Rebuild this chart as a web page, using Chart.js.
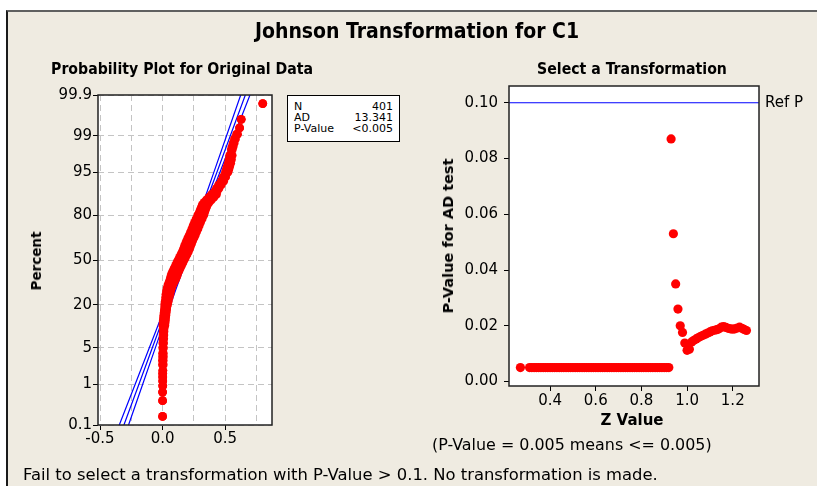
<!DOCTYPE html>
<html>
<head>
<meta charset="utf-8">
<script src="https://cdn.jsdelivr.net/npm/chart.js@4.4.1/dist/chart.umd.min.js"></script>
<style>
  html, body { margin: 0; padding: 0; }
  body { width: 817px; height: 486px; overflow: hidden; background: #fff; position: relative; font-family: "DejaVu Sans", sans-serif; }
  #panel { position: absolute; left: 6px; top: 10px; width: 830px; height: 490px; background: #efebe1;
           border-top: 2px solid #606060; border-left: 2px solid #1a1a1a; }
  canvas { position: absolute; left: 0; top: 0; }
  .txt { position: absolute; white-space: nowrap; color: #000; }
  .head { font-family: "DejaVu Sans Condensed", "DejaVu Sans", sans-serif; font-stretch: condensed; font-weight: bold; }
  #title { left: 167px; width: 500px; top: 19px; text-align: center; font-size: 21px; line-height: 24px; }
  #subLeft { left: 32px; width: 300px; top: 60px; text-align: center; font-size: 15.7px; line-height: 18px; }
  #subRight { left: 482px; width: 300px; top: 60px; text-align: center; font-size: 15.7px; line-height: 18px; }
  .axt { font-weight: bold; font-size: 13.5px; line-height: 16px; transform: translate(-50%, -50%); }
  .rot { transform: translate(-50%, -50%) rotate(-90deg); }
  #stats { position: absolute; left: 287px; top: 95px; width: 113px; height: 47px; box-sizing: border-box;
           border: 1px solid #000; background: #fff; font-size: 11px; padding: 5px 6px 0 6px; }
  #stats div { display: flex; justify-content: space-between; line-height: 11.2px; }
  .note { line-height: 18px; }
</style>
</head>
<body>
<div id="panel"></div>
<canvas id="probChart" width="817" height="486"></canvas>
<canvas id="zChart" width="817" height="486"></canvas>

<div class="txt head" id="title">Johnson Transformation for C1</div>
<div class="txt head" id="subLeft">Probability Plot for Original Data</div>
<div class="txt head" id="subRight">Select a Transformation</div>
<div class="txt axt rot" style="left:36px; top:261px;">Percent</div>
<div class="txt axt rot" style="left:448px; top:236px; font-size:14.5px;">P-Value for AD test</div>
<div class="txt axt" style="left:632px; top:420px; font-size:15px;">Z Value</div>
<div id="stats">
  <div><span>N</span><span>401</span></div>
  <div><span>AD</span><span>13.341</span></div>
  <div><span>P-Value</span><span>&lt;0.005</span></div>
</div>
<div class="txt note" style="left:432px; top:436px; font-size:15.9px;">(P-Value = 0.005 means &lt;= 0.005)</div>
<div class="txt note" style="left:23px; top:466px; font-size:16.4px;">Fail to select a transformation with P-Value &gt; 0.1. No transformation is made.</div>

<script>
// ---- probability plot of the original data ----
// plotted percent, and the left / right edge of the red band at that percent
const probPercents = [
  0.17, 0.42, 0.67, 0.92, 1.17, 1.42, 1.67, 1.92, 2.5, 3,
  3.5, 4, 5, 6, 7, 8, 9, 10, 11, 12,
  13, 14, 15, 16, 17, 18, 19, 20, 21, 22,
  24, 26, 28, 30, 32, 34, 36, 38, 40, 42,
  44, 46, 48, 50, 52, 54, 56, 58, 60, 62,
  64, 66, 68, 70, 72, 74, 76, 78, 80, 81,
  82, 83, 84, 85, 86, 87, 88, 89, 90, 91,
  92, 93, 94, 95, 95.5, 96, 96.5, 97, 97.5, 98.08,
  98.33, 98.58, 98.83, 99.08, 99.33, 99.58, 99.83
];
const probLow = [
  0.000, 0.000, 0.000, 0.001, 0.001, 0.001, 0.001, 0.002, -0.001, -0.001,
  0.000, 0.000, 0.001, 0.002, 0.003, 0.004, 0.005, 0.006, 0.002, 0.004,
  0.006, 0.008, 0.010, 0.012, 0.014, 0.016, 0.018, 0.018, 0.019, 0.021,
  0.024, 0.027, 0.031, 0.036, 0.043, 0.052, 0.060, 0.066, 0.073, 0.083,
  0.093, 0.104, 0.114, 0.124, 0.135, 0.146, 0.157, 0.166, 0.174, 0.183,
  0.192, 0.202, 0.213, 0.223, 0.234, 0.244, 0.255, 0.268, 0.281, 0.292,
  0.298, 0.304, 0.311, 0.318, 0.332, 0.350, 0.370, 0.390, 0.415, 0.430,
  0.448, 0.468, 0.484, 0.502, 0.509, 0.516, 0.524, 0.530, 0.536, 0.549,
  0.556, 0.564, 0.574, 0.591, 0.615, 0.628, 0.800
];
const probHigh = [
  0.000, 0.000, 0.000, 0.001, 0.001, 0.001, 0.001, 0.002, 0.005, 0.005,
  0.006, 0.006, 0.007, 0.008, 0.009, 0.010, 0.011, 0.012, 0.018, 0.020,
  0.022, 0.024, 0.026, 0.028, 0.030, 0.032, 0.034, 0.038, 0.041, 0.045,
  0.052, 0.059, 0.065, 0.072, 0.081, 0.092, 0.104, 0.114, 0.121, 0.131,
  0.141, 0.152, 0.162, 0.172, 0.183, 0.194, 0.205, 0.214, 0.222, 0.231,
  0.240, 0.250, 0.261, 0.271, 0.282, 0.292, 0.303, 0.316, 0.329, 0.332,
  0.338, 0.344, 0.351, 0.358, 0.372, 0.390, 0.410, 0.430, 0.435, 0.450,
  0.468, 0.488, 0.504, 0.522, 0.529, 0.536, 0.544, 0.550, 0.556, 0.557,
  0.564, 0.572, 0.582, 0.599, 0.615, 0.628, 0.800
];

// fitted normal line and its 95% confidence bounds
const fitPercents = [0.1, 1, 5, 10, 30, 50, 70, 90, 95, 99, 99.9];
const fitX  = [-0.309, -0.189, -0.082, -0.025, 0.094, 0.176, 0.258, 0.377, 0.434, 0.541, 0.661];
const ciLoX = [-0.346, -0.219, -0.106, -0.046, 0.078, 0.161, 0.242, 0.356, 0.410, 0.511, 0.624];
const ciHiX = [-0.272, -0.159, -0.058, -0.004, 0.110, 0.191, 0.274, 0.398, 0.458, 0.571, 0.698];

const pctTicks = [0.1, 1, 5, 20, 50, 80, 95, 99, 99.9];
const pctTickLabels = ['0.1', '1', '5', '20', '50', '80', '95', '99', '99.9'];
const xTicksLeft = [-0.5, -0.25, 0, 0.25, 0.5, 0.75];
const xLabelsLeft = ['-0.5', '', '0.0', '', '0.5', ''];

// ---- P-value of AD test for each Johnson z value ----
const zValues = [
  0.27, 0.31, 0.32, 0.33, 0.34, 0.35, 0.36, 0.37, 0.38, 0.39,
  0.40, 0.41, 0.42, 0.43, 0.44, 0.45, 0.46, 0.47, 0.48, 0.49,
  0.50, 0.51, 0.52, 0.53, 0.54, 0.55, 0.56, 0.57, 0.58, 0.59,
  0.60, 0.61, 0.62, 0.63, 0.64, 0.65, 0.66, 0.67, 0.68, 0.69,
  0.70, 0.71, 0.72, 0.73, 0.74, 0.75, 0.76, 0.77, 0.78, 0.79,
  0.80, 0.81, 0.82, 0.83, 0.84, 0.85, 0.86, 0.87, 0.88, 0.89,
  0.90, 0.91, 0.92,
  0.93, 0.94, 0.95, 0.96, 0.97, 0.98, 0.99, 1.00, 1.01, 1.02,
  1.03, 1.04, 1.05, 1.06, 1.07, 1.08, 1.09, 1.10, 1.11, 1.12,
  1.13, 1.14, 1.15, 1.16, 1.17, 1.18, 1.19, 1.20, 1.21, 1.22,
  1.23, 1.24, 1.25, 1.26
];
const pValues = [
  0.005, 0.005, 0.005, 0.005, 0.005, 0.005, 0.005, 0.005, 0.005, 0.005,
  0.005, 0.005, 0.005, 0.005, 0.005, 0.005, 0.005, 0.005, 0.005, 0.005,
  0.005, 0.005, 0.005, 0.005, 0.005, 0.005, 0.005, 0.005, 0.005, 0.005,
  0.005, 0.005, 0.005, 0.005, 0.005, 0.005, 0.005, 0.005, 0.005, 0.005,
  0.005, 0.005, 0.005, 0.005, 0.005, 0.005, 0.005, 0.005, 0.005, 0.005,
  0.005, 0.005, 0.005, 0.005, 0.005, 0.005, 0.005, 0.005, 0.005, 0.005,
  0.005, 0.005, 0.005,
  0.087, 0.053, 0.035, 0.026, 0.020, 0.0176, 0.0138, 0.0112, 0.0116, 0.0142,
  0.0148, 0.0153, 0.0158, 0.0162, 0.0166, 0.0170, 0.0174, 0.0178, 0.0182, 0.0184,
  0.0186, 0.0189, 0.0195, 0.0197, 0.0194, 0.0191, 0.0189, 0.0188, 0.0189, 0.0192,
  0.0195, 0.0191, 0.0187, 0.0183
];
const refP = 0.1;
const zTicks = [0.4, 0.6, 0.8, 1.0, 1.2];
const pTicks = [0, 0.02, 0.04, 0.06, 0.08, 0.10];

const FONT = '"DejaVu Sans", sans-serif';

// inverse standard normal (Acklam), used for the probability axis
function probit(p) {
  const a = [-3.969683028665376e+01, 2.209460984245205e+02, -2.759285104469687e+02, 1.383577518672690e+02, -3.066479806614716e+01, 2.506628277459239e+00];
  const b = [-5.447609879822406e+01, 1.615858368580409e+02, -1.556989798598866e+02, 6.680131188771972e+01, -1.328068155288572e+01];
  const c = [-7.784894002430293e-03, -3.223964580411365e-01, -2.400758277161838e+00, -2.549732539343734e+00, 4.374664141464968e+00, 2.938163982698783e+00];
  const d = [7.784695709041462e-03, 3.224671290700398e-01, 2.445134137142996e+00, 3.754408661907416e+00];
  const plow = 0.02425;
  if (p < plow) {
    const q = Math.sqrt(-2 * Math.log(p));
    return (((((c[0]*q+c[1])*q+c[2])*q+c[3])*q+c[4])*q+c[5]) / ((((d[0]*q+d[1])*q+d[2])*q+d[3])*q+1);
  }
  if (p > 1 - plow) {
    const q = Math.sqrt(-2 * Math.log(1 - p));
    return -(((((c[0]*q+c[1])*q+c[2])*q+c[3])*q+c[4])*q+c[5]) / ((((d[0]*q+d[1])*q+d[2])*q+d[3])*q+1);
  }
  const q = p - 0.5, r = q * q;
  return (((((a[0]*r+a[1])*r+a[2])*r+a[3])*r+a[4])*r+a[5])*q / (((((b[0]*r+b[1])*r+b[2])*r+b[3])*r+b[4])*r+1);
}
const zOf = pct => probit(pct / 100);

// white plot area + dark frame
const plotFrame = {
  id: 'plotFrame',
  beforeDraw(chart) {
    const { ctx, chartArea: a } = chart;
    ctx.save();
    ctx.fillStyle = '#ffffff';
    ctx.fillRect(a.left, a.top, a.width, a.height);
    ctx.restore();
  },
  afterDraw(chart) {
    const { ctx, chartArea: a } = chart;
    ctx.save();
    ctx.strokeStyle = '#222';
    ctx.lineWidth = 1.5;
    ctx.strokeRect(a.left, a.top, a.width, a.height);
    ctx.restore();
  }
};

const refLabel = {
  id: 'refLabel',
  afterDraw(chart) {
    const { ctx, chartArea, scales } = chart;
    ctx.save();
    ctx.font = '15px ' + FONT;
    ctx.fillStyle = '#000';
    ctx.textBaseline = 'middle';
    ctx.fillText('Ref P', chartArea.right + 6, scales.y.getPixelForValue(refP));
    ctx.restore();
  }
};

const blueLine = (xs) => ({
  data: xs.map((x, i) => ({ x: x, y: zOf(fitPercents[i]) })),
  showLine: true,
  borderColor: '#0000ff',
  borderWidth: 1.2,
  pointRadius: 0,
  fill: false
});

const redDots = (xs) => ({
  data: xs.map((v, i) => ({ x: v, y: zOf(probPercents[i]) })),
  backgroundColor: '#ff0000',
  borderWidth: 0,
  pointRadius: 4.4
});

new Chart(document.getElementById('probChart'), {
  type: 'scatter',
  data: {
    datasets: [
      redDots(probLow),
      redDots(probHigh),
      blueLine(fitX),
      blueLine(ciLoX),
      blueLine(ciHiX)
    ]
  },
  options: {
    responsive: false,
    animation: false,
    events: [],
    layout: { padding: { left: 58, top: 95, right: 545, bottom: 31 } },
    plugins: { legend: { display: false }, tooltip: { enabled: false } },
    scales: {
      x: {
        type: 'linear',
        min: -0.516,
        max: 0.874,
        afterBuildTicks: s => { s.ticks = xTicksLeft.map(v => ({ value: v })); },
        afterFit: s => { s.height = 30; },
        ticks: {
          autoSkip: false, maxRotation: 0, padding: 0, color: '#000',
          font: { family: FONT, size: 15 },
          callback: (v, i) => xLabelsLeft[i]
        },
        grid: {
          color: '#c4c4c4',
          tickColor: c => (xLabelsLeft[c.index] ? '#000' : 'rgba(0,0,0,0)'),
          tickLength: 5
        },
        border: { display: false, dash: [6, 4] }
      },
      y: {
        type: 'linear',
        min: zOf(0.1),
        max: zOf(99.9),
        afterBuildTicks: s => { s.ticks = pctTicks.map(p => ({ value: zOf(p) })); },
        afterFit: s => { s.width = 40; },
        ticks: {
          autoSkip: false, padding: 1, color: '#000',
          font: { family: FONT, size: 15 },
          callback: (v, i) => pctTickLabels[i]
        },
        grid: { color: '#c4c4c4', tickColor: '#000', tickLength: 5 },
        border: { display: false, dash: [6, 4] }
      }
    }
  },
  plugins: [plotFrame]
});

const zMin = 0.22, zMax = 1.315;

new Chart(document.getElementById('zChart'), {
  type: 'scatter',
  data: {
    datasets: [
      {
        data: zValues.map((z, i) => ({ x: z, y: pValues[i] })),
        backgroundColor: '#ff0000',
        borderWidth: 0,
        pointRadius: 4.6
      },
      {
        data: [{ x: zMin, y: refP }, { x: zMax, y: refP }],
        showLine: true,
        borderColor: '#0000ff',
        borderWidth: 1.2,
        pointRadius: 0
      }
    ]
  },
  options: {
    responsive: false,
    animation: false,
    events: [],
    layout: { padding: { left: 464, top: 86, right: 58, bottom: 70 } },
    plugins: { legend: { display: false }, tooltip: { enabled: false } },
    scales: {
      x: {
        type: 'linear',
        min: zMin,
        max: zMax,
        afterBuildTicks: s => { s.ticks = zTicks.map(v => ({ value: v })); },
        afterFit: s => { s.height = 30; },
        ticks: {
          autoSkip: false, maxRotation: 0, padding: 1, color: '#000',
          font: { family: FONT, size: 15 },
          callback: v => v.toFixed(1)
        },
        grid: { drawOnChartArea: false, tickColor: '#000', tickLength: 5 },
        border: { display: false }
      },
      y: {
        type: 'linear',
        min: -0.0016,
        max: 0.106,
        afterBuildTicks: s => { s.ticks = pTicks.map(v => ({ value: v })); },
        afterFit: s => { s.width = 45; },
        ticks: {
          autoSkip: false, padding: 6, color: '#000',
          font: { family: FONT, size: 15 },
          callback: v => v.toFixed(2)
        },
        grid: { drawOnChartArea: false, tickColor: '#000', tickLength: 5 },
        border: { display: false }
      }
    }
  },
  plugins: [plotFrame, refLabel]
});
</script>
</body>
</html>
